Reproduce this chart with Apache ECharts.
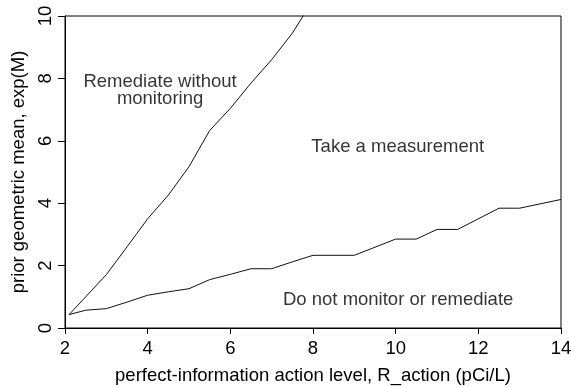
<!DOCTYPE html>
<html>
<head>
<meta charset="utf-8">
<style>
  html, body { margin: 0; padding: 0; background: #fff; }
  #chart { width: 571px; height: 387px; }
</style>
<script src="https://cdn.jsdelivr.net/npm/echarts@6/dist/echarts.min.js"></script>
</head>
<body>
<div id="chart"></div>
<script>
// Boundary between "remediate" and "take a measurement" regions
const upperX = [2.1, 3, 3.5, 4, 4.5, 5, 5.5, 6, 6.5, 7, 7.5, 8];
const upperY = [0.43, 1.71, 2.6, 3.5, 4.26, 5.17, 6.33, 7.04, 7.85, 8.6, 9.45, 10.5];

// Boundary between "take a measurement" and "do nothing" regions
const lowerX = [2.1, 2.5, 3, 3.5, 4, 4.5, 5, 5.5, 6, 6.5, 7, 7.5, 8, 9, 10, 10.5, 11, 11.5, 12.5, 13, 14];
const lowerY = [0.43, 0.57, 0.62, 0.83, 1.05, 1.16, 1.26, 1.55, 1.72, 1.9, 1.9, 2.12, 2.33, 2.33, 2.85, 2.85, 3.16, 3.16, 3.84, 3.84, 4.12];

// Region labels: [text, x, y] in data units
const regionLabels = [
  ['Remediate without\nmonitoring', 4.3, 7.61],
  ['Take a measurement', 10.05, 5.81],
  ['Do not monitor or remediate', 10.06, 0.9]
];

const xTitle = 'perfect-information action level, R_action (pCi/L)';
const yTitle = 'prior geometric mean, exp(M)';

const FONT = '"Liberation Sans", Arial, sans-serif';

const pairs = (xs, ys) => xs.map((x, i) => [x, ys[i]]);

const chart = echarts.init(document.getElementById('chart'), null, { renderer: 'canvas' });

chart.setOption({
  backgroundColor: '#fff',
  animation: false,
  grid: {
    left: 65, right: 10, top: 16, bottom: 59,
    containLabel: false, outerBoundsMode: 'none',
    show: true, borderColor: '#000', borderWidth: 1, backgroundColor: 'transparent'
  },
  xAxis: {
    type: 'value', min: 2, max: 14, interval: 2,
    name: xTitle, nameLocation: 'middle', nameGap: 38,
    nameTextStyle: { fontFamily: FONT, fontSize: 18.5, color: '#000' },
    axisLine: { show: true, lineStyle: { color: '#000', width: 1 } },
    axisTick: { show: true, length: 6, lineStyle: { color: '#000' } },
    axisLabel: { fontFamily: FONT, fontSize: 18.5, color: '#000', margin: 11 },
    splitLine: { show: false }
  },
  yAxis: {
    type: 'value', min: 0, max: 10, interval: 2,
    name: yTitle, nameLocation: 'middle', nameGap: 27,
    nameTextStyle: { fontFamily: FONT, fontSize: 18.5, color: '#000' },
    axisLine: { show: true, lineStyle: { color: '#000', width: 1 } },
    axisTick: { show: true, length: 7, lineStyle: { color: '#000' } },
    axisLabel: { fontFamily: FONT, fontSize: 18.5, color: '#000', rotate: 90, margin: 10 },
    splitLine: { show: false }
  },
  series: [
    {
      type: 'line', data: pairs(upperX, upperY), showSymbol: false, clip: true,
      lineStyle: { color: '#111', width: 1 }
    },
    {
      type: 'line', data: pairs(lowerX, lowerY), showSymbol: false, clip: true,
      lineStyle: { color: '#111', width: 1 }
    },
    {
      type: 'scatter', symbolSize: 0, silent: true,
      data: regionLabels.map(r => ({ value: [r[1], r[2]], name: r[0] })),
      label: {
        show: true, position: 'inside', formatter: p => p.name,
        fontFamily: FONT, fontSize: 18.5, color: '#000', lineHeight: 17, align: 'center'
      }
    }
  ]
});
</script>
</body>
</html>
